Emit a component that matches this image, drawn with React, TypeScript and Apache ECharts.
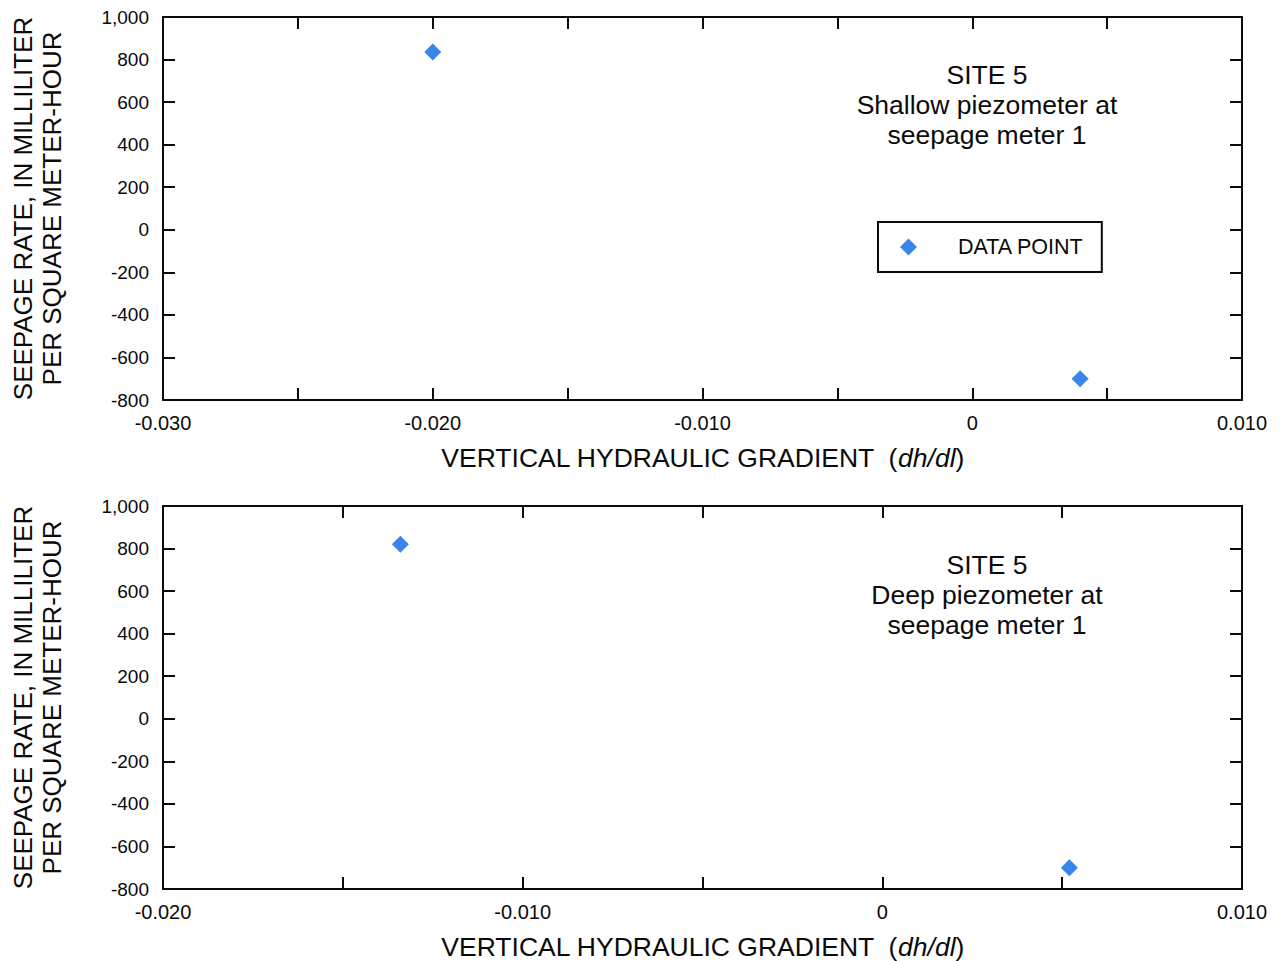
import React, { useEffect, useRef } from "react";
import * as echarts from "echarts";

const seriesName = "DATA POINT";
const shallowX = [-0.02, 0.004];
const shallowY = [835, -700];
const deepX = [-0.0134, 0.0052];
const deepY = [820, -700];

const topXRange = [-0.03, 0.01];
const bottomXRange = [-0.02, 0.01];
const yRange = [-800, 1000];
const xTickStep = 0.005;
const xLabelStep = 0.01;
const yTickStep = 200;

const yTitle = "SEEPAGE RATE, IN MILLILITER\nPER SQUARE METER-HOUR";
const xTitleMain = "VERTICAL HYDRAULIC GRADIENT";
const xTitleUnit = "dh/dl";
const topNote = "SITE 5\nShallow piezometer at\nseepage meter 1";
const bottomNote = "SITE 5\nDeep piezometer at\nseepage meter 1";

const FONT = "'Liberation Sans', Arial, Helvetica, sans-serif";
const INK = "#0a0a0a";
const MARK = "#0a66e0";

function fmtX(v: number): string {
  const r = v / xLabelStep;
  if (Math.abs(r - Math.round(r)) > 1e-6) return "";
  if (Math.abs(v) < 1e-9) return "0";
  return v.toFixed(3);
}
function fmtY(v: number): string {
  const n = Math.round(v);
  const s = Math.abs(n).toString().replace(/\B(?=(\d{3})+(?!\d))/g, ",");
  return (n < 0 ? "-" : "") + s;
}

export default function App() {
  const ref = useRef<HTMLDivElement>(null);
  useEffect(() => {
    if (!ref.current) return;
    const chart = echarts.init(ref.current, null, { renderer: "svg" });
    const axisLine = { show: true, onZero: false, lineStyle: { color: INK, width: 2 } };
    const tick = { show: true, inside: true, length: 12, lineStyle: { color: INK, width: 2 } };
    const grids = [
      { left: 162, top: 17, width: 1080, height: 383 },
      { left: 162, top: 506, width: 1080, height: 383 },
    ];
    const ranges = [topXRange, bottomXRange];
    const xAxes: any[] = [];
    const yAxes: any[] = [];
    const titleStyle = { fontSize: 26.5, color: INK, fontFamily: FONT };
    [0, 1].forEach((g) => {
      xAxes.push({
        type: "value",
        gridIndex: g,
        position: "bottom",
        min: ranges[g][0],
        max: ranges[g][1],
        interval: xTickStep,
        axisLine,
        axisTick: tick,
        splitLine: { show: false },
        axisLabel: {
          formatter: fmtX,
          fontSize: 20,
          color: INK,
          fontFamily: FONT,
          margin: 13,
          showMinLabel: true,
          showMaxLabel: true,
        },
        name: `{m|${xTitleMain}  (}{i|${xTitleUnit}}{m|)}`,
        nameLocation: "middle",
        nameGap: 44,
        nameTextStyle: {
          rich: {
            m: titleStyle,
            i: { ...titleStyle, fontStyle: "italic" },
          },
        },
      });
      xAxes.push({
        type: "value",
        gridIndex: g,
        position: "top",
        min: ranges[g][0],
        max: ranges[g][1],
        interval: xTickStep,
        axisLine,
        axisTick: tick,
        splitLine: { show: false },
        axisLabel: { show: false },
      });
      yAxes.push({
        type: "value",
        gridIndex: g,
        position: "left",
        min: yRange[0],
        max: yRange[1],
        interval: yTickStep,
        axisLine,
        axisTick: tick,
        splitLine: { show: false },
        axisLabel: {
          formatter: fmtY,
          fontSize: 19,
          color: INK,
          fontFamily: FONT,
          margin: 14,
        },
        name: yTitle,
        nameLocation: "middle",
        nameGap: 97,
        nameTextStyle: { fontSize: 26, lineHeight: 29, color: INK, fontFamily: FONT, align: "center" },
      });
      yAxes.push({
        type: "value",
        gridIndex: g,
        position: "right",
        min: yRange[0],
        max: yRange[1],
        interval: yTickStep,
        axisLine,
        axisTick: tick,
        splitLine: { show: false },
        axisLabel: { show: false },
      });
    });

    const mkData = (xs: number[], ys: number[]) => xs.map((x, i) => [x, ys[i]]);

    chart.setOption({
      animation: false,
      backgroundColor: "#ffffff",
      grid: grids,
      xAxis: xAxes,
      yAxis: yAxes,
      legend: {
        data: [seriesName],
        left: 878,
        top: 222,
        icon: "diamond",
        itemWidth: 17,
        itemHeight: 17,
        borderColor: INK,
        borderWidth: 2,
        padding: [14, 18, 14, 22],
        selectedMode: false,
        textStyle: { fontSize: 21.5, color: INK, fontFamily: FONT, padding: [0, 0, 0, 36] },
      },
      series: [
        {
          name: seriesName,
          type: "scatter",
          xAxisIndex: 0,
          yAxisIndex: 0,
          symbol: "diamond",
          symbolSize: 17,
          itemStyle: { color: MARK },
          data: mkData(shallowX, shallowY),
        },
        {
          name: seriesName,
          type: "scatter",
          xAxisIndex: 2,
          yAxisIndex: 2,
          symbol: "diamond",
          symbolSize: 17,
          itemStyle: { color: MARK },
          data: mkData(deepX, deepY),
        },
      ],
      graphic: [
        {
          type: "text",
          x: 987,
          y: 60,
          style: {
            text: topNote,
            align: "center",
            verticalAlign: "top",
            fill: INK,
            fontSize: 26.5,
            fontFamily: FONT,
            lineHeight: 30,
          },
        },
        {
          type: "text",
          x: 987,
          y: 550,
          style: {
            text: bottomNote,
            align: "center",
            verticalAlign: "top",
            fill: INK,
            fontSize: 26.5,
            fontFamily: FONT,
            lineHeight: 30,
          },
        },
      ],
    });
    return () => chart.dispose();
  }, []);
  return (
    <div
      ref={ref}
      style={{ position: "fixed", left: 0, top: 0, width: 1284, height: 961, background: "#fff" }}
    />
  );
}
